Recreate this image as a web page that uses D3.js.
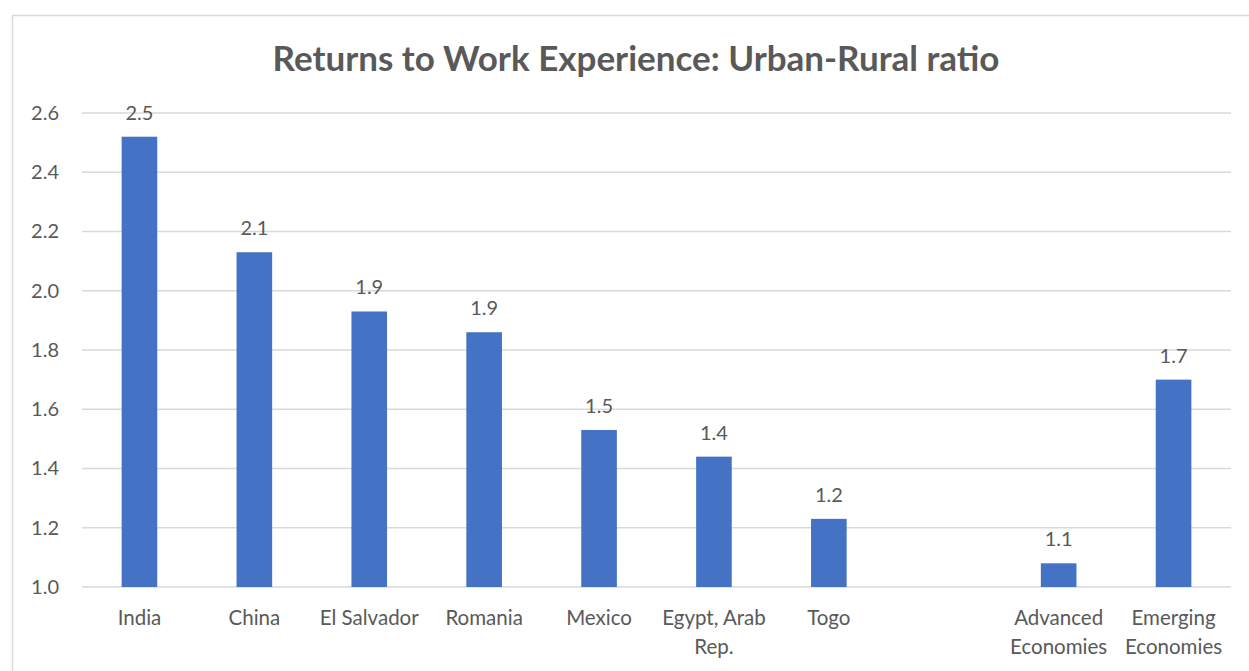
<!DOCTYPE html>
<html>
<head>
<meta charset="utf-8">
<script src="https://cdn.jsdelivr.net/npm/d3@7"></script>
<style>
  body { margin: 0; background: #fff; }
  text { font-family: Lato, "Open Sans", sans-serif; fill: #595959; }
</style>
</head>
<body>
<div class="graphics"></div>
<script>
// chart data
var categories = ["India", "China", "El Salvador", "Romania", "Mexico", "Egypt, Arab Rep.", "Togo", "", "Advanced Economies", "Emerging Economies"];
var values = [2.52, 2.13, 1.93, 1.86, 1.53, 1.44, 1.23, null, 1.08, 1.70];
var labels = ["2.5", "2.1", "1.9", "1.9", "1.5", "1.4", "1.2", "", "1.1", "1.7"];
var yTicks = [1.0, 1.2, 1.4, 1.6, 1.8, 2.0, 2.2, 2.4, 2.6];
var title = "Returns to Work Experience: Urban-Rural ratio";

function barchart() {
    var W = 1249, H = 671;
    var margin = {top: 113, right: 18, bottom: 84, left: 82},
        width = W - margin.left - margin.right,
        height = H - margin.top - margin.bottom;

    var root = d3.select(".graphics")
        .append("svg")
        .attr("width", W)
        .attr("height", H);

    // outer chart border (only left/top visible in frame)
    root.append("rect")
        .attr("x", 12.5).attr("y", 15.5)
        .attr("width", W + 20).attr("height", H + 20)
        .attr("fill", "none")
        .attr("stroke", "#d9d9d9")
        .attr("stroke-width", 1.5);

    root.append("text")
        .attr("x", 636).attr("y", 71)
        .attr("text-anchor", "middle")
        .style("font-size", "35px")
        .style("font-weight", "bold")
        .text(title);

    var svg = root.append("g")
        .attr("transform", "translate(" + margin.left + "," + margin.top + ")");

    var x = d3.scaleBand()
        .domain(categories.map(function(d, i) { return i; }))
        .range([0, width])
        .paddingInner(0.69)
        .paddingOuter(0.345);

    var y = d3.scaleLinear()
        .domain([1.0, 2.6])
        .range([height, 0]);

    // gridlines
    svg.selectAll("grid")
        .data(yTicks)
        .enter()
        .append("line")
            .attr("x1", 0).attr("x2", width)
            .attr("y1", function(d) { return y(d); })
            .attr("y2", function(d) { return y(d); })
            .attr("stroke", "#d9d9d9")
            .attr("stroke-width", 1.5);

    // y axis labels
    var yAxis = svg.append("g")
        .call(d3.axisLeft(y).tickValues(yTicks).tickFormat(d3.format(".1f")).tickSize(0).tickPadding(23));
    yAxis.select(".domain").remove();
    yAxis.selectAll("text")
        .style("font-size", "20px")
        .style("font-family", "Lato, 'Open Sans', sans-serif")
        .attr("fill", "#595959");

    // bars
    var data = categories.map(function(c, i) { return {i: i, name: c, v: values[i], lab: labels[i]}; })
        .filter(function(d) { return d.v !== null; });

    svg.selectAll("bar")
        .data(data)
        .enter()
        .append("rect")
            .attr("x", function(d) { return x(d.i); })
            .attr("width", x.bandwidth())
            .attr("y", function(d) { return y(d.v); })
            .attr("height", function(d) { return y(1.0) - y(d.v); })
            .attr("fill", "#4472c4");

    // value labels
    svg.selectAll("vlab")
        .data(data)
        .enter()
        .append("text")
            .attr("x", function(d) { return x(d.i) + x.bandwidth() / 2; })
            .attr("y", function(d) { return y(d.v) - 17; })
            .attr("text-anchor", "middle")
            .style("font-size", "20px")
            .text(function(d) { return d.lab; });

    // category labels (wrap to fit band)
    var step = x.step();
    categories.forEach(function(c, i) {
        if (!c) return;
        var cx = x(i) + x.bandwidth() / 2;
        var t = svg.append("text")
            .attr("x", cx)
            .attr("y", height + 38)
            .attr("text-anchor", "middle")
            .style("font-size", "20.5px");
        var words = c.split(" ");
        var line = [];
        var tspan = t.append("tspan").attr("x", cx).attr("dy", 0);
        words.forEach(function(w) {
            line.push(w);
            tspan.text(line.join(" "));
            if (tspan.node().getComputedTextLength() > step - 4 && line.length > 1) {
                line.pop();
                tspan.text(line.join(" "));
                line = [w];
                tspan = t.append("tspan").attr("x", cx).attr("dy", "29px").text(w);
            }
        });
    });
}

barchart();
</script>
</body>
</html>
